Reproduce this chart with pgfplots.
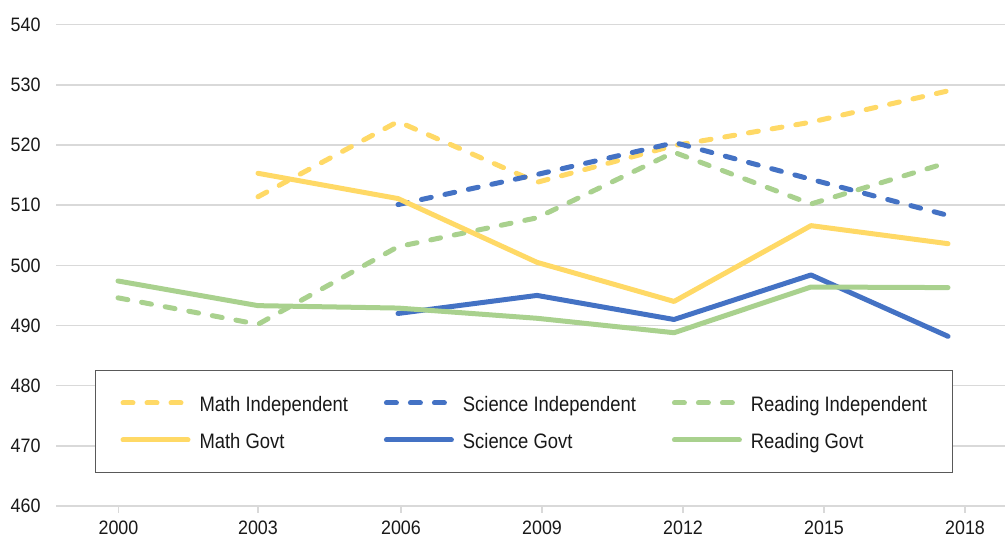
\documentclass[border=0pt]{standalone}
\usepackage{fontspec}
\setmainfont[FakeStretch=0.88]{Liberation Sans}
\newfontfamily\tickfont[FakeStretch=0.92]{Liberation Sans}
\usepackage{pgfplots}
\pgfplotsset{compat=1.18}
\definecolor{cY}{RGB}{255,217,102}
\definecolor{cB}{RGB}{68,114,196}
\definecolor{cG}{RGB}{169,209,142}
\definecolor{gridc}{RGB}{217,217,217}
\definecolor{txt}{RGB}{25,25,25}
\tikzset{pl/.style={line width=5bp, line cap=round, line join=round}}
\begin{document}
\begin{tikzpicture}
\begin{axis}[
  name=ax,
  scale only axis,
  width=949bp, height=481.3bp,
  xmin=56, xmax=1005,
  ymin=460, ymax=540,
  xtick={118.5,258,401,542,683,824,965},
  xticklabels={2000,2003,2006,2009,2012,2015,2018},
  ytick={460,470,...,540},
  ymajorgrids,
  grid style={gridc, line width=1.6bp},
  axis line style={draw=none},
  tick align=outside,
  xtick pos=bottom,
  x tick style={gridc, line width=1.6bp},
  y tick style={draw=none},
  major tick length=7bp,
  ticklabel style={font=\tickfont\fontsize{19.5}{22}\selectfont, text=txt},
  yticklabel style={xshift=-5bp},
  xticklabel style={yshift=-4bp},
  /pgf/number format/assume math mode=true,
  legend columns=3,
  legend cell align=left,
  legend style={at={(axis cs:95,460)}, anchor=south west, yshift=33bp,
    draw=black!65, line width=1bp, fill=white,
    font=\fontsize{21}{24}\selectfont, text=txt,
    inner xsep=25bp, inner ysep=22bp,
    row sep=16bp,
    nodes={inner sep=0pt, text height=19bp, text depth=2bp},
    /tikz/every odd column/.style={column sep=9bp},
    /tikz/every even column/.style={column sep=36bp}},
  legend image code/.code={\draw[#1] (0bp,0bp) -- (65bp,0bp);},
]
\addplot[pl, cY, dash pattern=on 10bp off 14bp] coordinates {
  (258,511.4) (398,523.9) (537,513.8) (674,519.9) (811,523.8) (948,529.0)};
\addlegendentry{Math Independent}
\addplot[pl, cB, dash pattern=on 10bp off 14bp] coordinates {
  (398,510.1) (537,515.1) (675,520.4) (811,514.3) (948,508.3)};
\addlegendentry{Science Independent}
\addplot[pl, cG, dash pattern=on 10bp off 14bp] coordinates {
  (118,494.6) (258,490.2) (398,503.1) (537,507.9) (674,518.8) (811,510.2) (948,517.1)};
\addlegendentry{Reading Independent}
\addplot[pl, cY] coordinates {
  (258,515.3) (398,511.1) (537,500.5) (674,494.0) (811,506.6) (948,503.6)};
\addlegendentry{Math Govt}
\addplot[pl, cB] coordinates {
  (398,492.0) (537,495.0) (674,491.0) (811,498.4) (948,488.2)};
\addlegendentry{Science Govt}
\addplot[pl, cG] coordinates {
  (118,497.4) (258,493.3) (398,492.9) (537,491.2) (674,488.8) (811,496.4) (948,496.3)};
\addlegendentry{Reading Govt}
\end{axis}
\pgfresetboundingbox
\path ([shift={(-56bp,-33bp)}]ax.south west) rectangle ([shift={(0bp,24.7bp)}]ax.north east);
\end{tikzpicture}
\end{document}
